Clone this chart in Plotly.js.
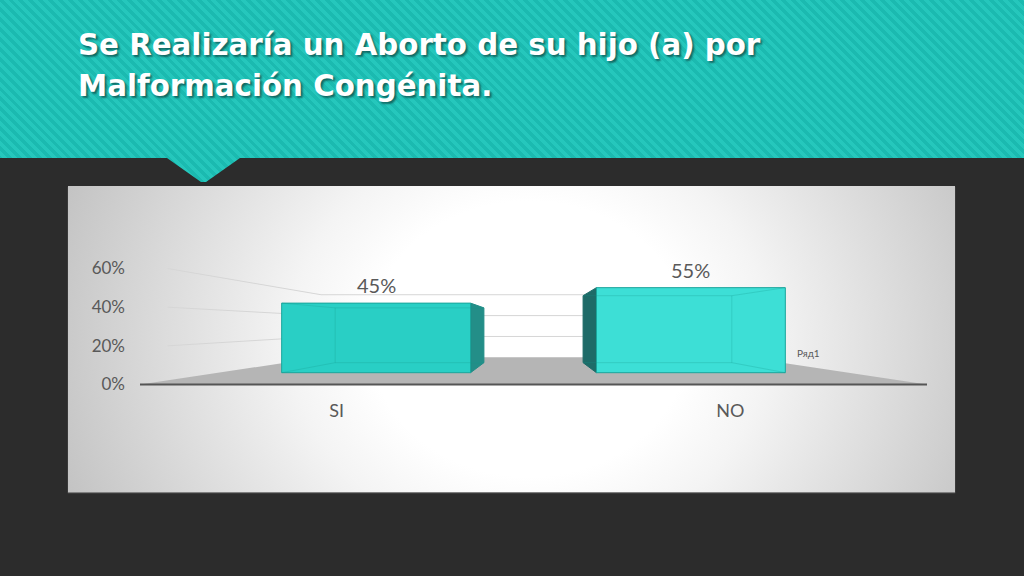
<!DOCTYPE html>
<html>
<head>
<meta charset="utf-8">
<script src="https://cdn.plot.ly/plotly-3.0.1.min.js"></script>
<style>
  html, body { margin: 0; padding: 0; width: 1024px; height: 576px; overflow: hidden; background: #2c2c2c; }
  #header {
    position: absolute; left: 0; top: 0; width: 1024px; height: 185px;
    background: repeating-linear-gradient(45deg, #25c7bc 0px, #25c7bc 3.5px, #1bbab0 3.5px, #1bbab0 7px);
    clip-path: polygon(0 0, 100% 0, 100% 158px, 240px 158px, 206px 182px, 201px 182px, 167px 158px, 0 158px);
  }
  #panel {
    position: absolute; left: 68px; top: 186px; width: 887px; height: 306px;
    background: radial-gradient(ellipse 60% 150% at 52% 50%, #ffffff 30%, #f4f4f4 45%, #bcbcbc 100%);
    box-shadow: 0 1px 1px rgba(255,255,255,0.4);
  }
  #chart { position: absolute; left: 0; top: 0; width: 1024px; height: 576px; }
</style>
</head>
<body>
<div id="header"></div>
<div id="panel"></div>
<div id="chart"></div>
<script>
const categories = ["SI", "NO"];
const values = [0.45, 0.55];
const yTicks = [0, 0.2, 0.4, 0.6];
const seriesName = "Ряд1";
const titleLines = ["Se Realizaría un Aborto de su hijo (a) por", "Malformación Congénita."];

/* ---------- fake 3D perspective ---------- */
const W = 1024, H = 576;
const CX = 533.5, FLOOR_Y = 384.5, VP_Y = 325.5;   // front plane + vanishing height
const SX = 393.5, SY = 193.3;                        // px per category / per unit at front
const S_BAR = 0.8, S_BACK = 0.63, S_WALL = 0.54;     // depth scales
const HALF = 0.3;                                    // half bar width (categories)

const frontColors = ["#29cfc5", "#3ddfd6"];
const sideColors = ["#238e88", "#1e6b68"];
const textGrey = "#595959";

function proj(xc, v, s) {
  return [(CX + xc * SX * s) / W, 1 - (VP_Y + (FLOOR_Y - VP_Y) * s - v * SY * s) / H];
}
function path(pts) {
  return "M" + pts.map(p => p[0] + "," + p[1]).join(" L") + " Z";
}
function seg(a, b, color, width) {
  return { type: "line", xref: "paper", yref: "paper", x0: a[0], y0: a[1], x1: b[0], y1: b[1],
    line: { color: color, width: width }, layer: "below" };
}

const shapes = [];

// floor
shapes.push({
  type: "path", xref: "paper", yref: "paper", layer: "below",
  path: path([proj(-1, 0, 1), proj(-1, 0, S_WALL), proj(1, 0, S_WALL), proj(1, 0, 1)]),
  fillcolor: "#b5b5b5", line: { width: 0 }
});

// gridlines: left wall + back wall
yTicks.slice(1).forEach(v => {
  shapes.push(seg(proj(-0.93, v, 1), proj(-1, v, S_WALL), "#d6d6d6", 1));
  shapes.push(seg(proj(-1, v, S_WALL), proj(1, v, S_WALL), "#d6d6d6", 1));
});

// front axis line
shapes.push(seg(proj(-1, 0, 1), proj(1, 0, 1), "#555555", 2));

// bar side faces + see-through back edges
values.forEach((v, i) => {
  const xc = i - 0.5;
  const edge = xc < 0 ? xc + HALF : xc - HALF;
  shapes.push({
    type: "path", xref: "paper", yref: "paper", layer: "below",
    path: path([proj(edge, 0, S_BAR), proj(edge, v, S_BAR), proj(edge, v, S_BACK), proj(edge, 0, S_BACK)]),
    fillcolor: sideColors[i], line: { color: sideColors[i], width: 1 }
  });
  const far = xc < 0 ? xc - HALF : xc + HALF;
  const ec = "rgba(20,150,140,0.25)";
  const b = [proj(far, 0, S_BACK), proj(far, v, S_BACK), proj(edge, v, S_BACK), proj(edge, 0, S_BACK)];
  const back = [seg(b[0], b[1], ec, 1), seg(b[1], b[2], ec, 1), seg(b[0], b[3], ec, 1),
    seg(proj(far, v, S_BAR), b[1], ec, 1), seg(proj(far, 0, S_BAR), b[0], ec, 1)];
  back.forEach(s => { s.layer = "above"; shapes.push(s); });
});

const floorBar = VP_Y + (FLOOR_Y - VP_Y) * S_BAR;

const traces = [
  {
    type: "bar", x: categories, y: values, width: 2 * HALF,
    marker: { color: frontColors, line: { color: "#1aa59c", width: 1 } },
    hoverinfo: "skip", showlegend: false
  },
  {
    type: "scatter", mode: "markers", x: categories, y: [0, 0], xaxis: "x2", yaxis: "y2",
    marker: { opacity: 0 }, hoverinfo: "skip", showlegend: false
  }
];

const annotations = values.map((v, i) => ({
  x: categories[i], y: v, xref: "x", yref: "y", yanchor: "bottom", yshift: 4,
  text: Math.round(v * 100) + "%", showarrow: false,
  font: { family: "Lato, sans-serif", size: 20, color: textGrey }
}));
annotations.push({
  x: 795 / W, y: 1 - 353 / H, xref: "paper", yref: "paper", xanchor: "left",
  text: seriesName, showarrow: false, font: { family: "Lato, sans-serif", size: 10, color: textGrey }
});
// slide title, one annotation per line
titleLines.forEach((t, i) => {
  annotations.push({
    x: 76 / W, y: 1 - (45 + 41 * i) / H, xref: "paper", yref: "paper",
    xanchor: "left", yanchor: "middle", text: t, showarrow: false,
    font: { family: "DejaVu Sans, sans-serif", size: 29.3, color: "#ffffff", weight: 700,
      shadow: "2px 2px 2px rgba(0,0,0,0.45)" }
  });
});

const layout = {
  width: W, height: H,
  margin: { l: 0, r: 0, t: 0, b: 0 },
  paper_bgcolor: "rgba(0,0,0,0)",
  plot_bgcolor: "rgba(0,0,0,0)",
  showlegend: false,
  hovermode: false,
  xaxis: {
    type: "category", range: [0.5 - CX / (SX * S_BAR), 0.5 + (W - CX) / (SX * S_BAR)],
    visible: false, fixedrange: true
  },
  yaxis: {
    range: [(floorBar - H) / (SY * S_BAR), floorBar / (SY * S_BAR)],
    visible: false, fixedrange: true
  },
  xaxis2: {
    type: "category", overlaying: "x", anchor: "free", position: 1 - FLOOR_Y / H,
    range: [0.5 - CX / SX, 0.5 + (W - CX) / SX],
    showgrid: false, zeroline: false, showline: false, ticks: "", ticklabelstandoff: 13,
    tickfont: { family: "Lato, sans-serif", size: 18, color: textGrey }
  },
  yaxis2: {
    overlaying: "y", anchor: "free", position: (CX - SX) / W, side: "left",
    range: [(FLOOR_Y - H) / SY, FLOOR_Y / SY],
    tickvals: yTicks, tickformat: ".0%",
    showgrid: false, zeroline: false, showline: false, ticks: "", ticklabelstandoff: 15,
    tickfont: { family: "Lato, sans-serif", size: 17, color: textGrey }
  },
  shapes: shapes,
  annotations: annotations
};

Plotly.newPlot("chart", traces, layout, { displayModeBar: false, staticPlot: true });
</script>
</body>
</html>
